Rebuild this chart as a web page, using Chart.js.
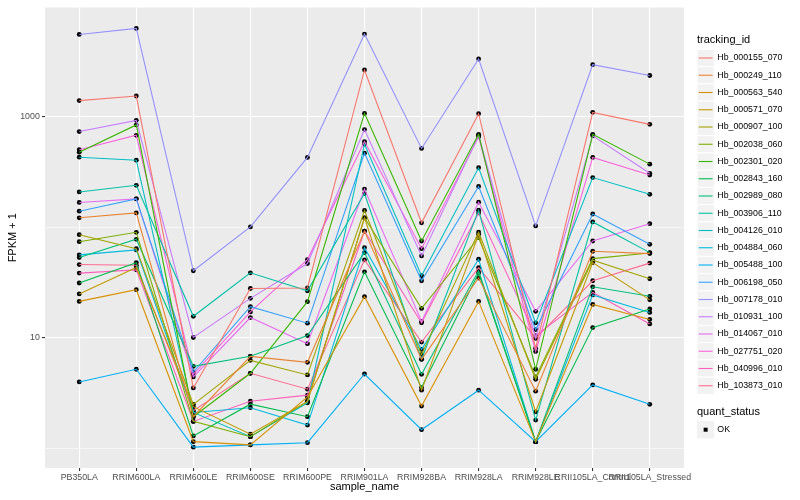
<!DOCTYPE html>
<html>
<head>
<meta charset="utf-8">
<script src="https://cdn.jsdelivr.net/npm/chart.js@4.4.1/dist/chart.umd.min.js"></script>
<style>
  html, body { margin: 0; padding: 0; background: #ffffff; }
  #wrap { width: 800px; height: 500px; }
</style>
</head>
<body>
<div id="wrap"><canvas id="myChart" width="800" height="500"></canvas></div>
<script>
// samples on the x axis
const samples = ["PB350LA", "RRIM600LA", "RRIM600LE", "RRIM600SE", "RRIM600PE", "RRIM901LA",
  "RRIM928BA", "RRIM928LA", "RRIM928LE", "RRII105LA_Control", "RRII105LA_Stressed"];

// FPKM + 1 per gene, one value per sample
const hb_000155_070 = [1400, 1540, 3.53, 28.0, 28.3, 2650, 110, 1066, 8.09, 1096, 854];
const hb_000249_110 = [122, 135, 1.94, 6.82, 6.02, 92.6, 6.41, 34.8, 3.30, 60.8, 57.9];
const hb_000563_540 = [21.4, 27.3, 1.155, 1.08, 2.93, 23.6, 2.42, 21.4, 1.155, 20.1, 14.7];
const hb_000571_070 = [25.0, 43.3, 2.39, 1.35, 2.67, 122, 3.37, 86.5, 2.15, 48.0, 22.1];
const hb_000907_100 = [85.8, 64.2, 2.51, 6.27, 4.63, 142, 7.10, 90.7, 4.23, 50.5, 34.3];
const hb_002038_060 = [74.2, 90.2, 1.76, 1.28, 2.67, 122, 18.5, 80.6, 4.44, 52.2, 58.7];
const hb_002301_020 = [478, 844, 1.94, 4.79, 21.3, 1073, 75.3, 694, 5.21, 694, 373];
const hb_002843_160 = [31.4, 48.0, 1.30, 2.52, 1.94, 39.6, 3.56, 38.6, 1.155, 12.4, 18.3];
const hb_002989_080 = [53.3, 78.0, 5.54, 6.82, 10.5, 59.1, 4.69, 40.5, 1.155, 29.0, 23.8];
const hb_003906_110 = [209, 240, 15.7, 38.8, 26.7, 202, 6.41, 143, 1.81, 112, 59.1];
const hb_004126_010 = [431, 405, 2.12, 1.28, 2.59, 565, 36.5, 346, 13.7, 282, 199];
const hb_004884_060 = [56.4, 62.5, 2.12, 2.34, 1.63, 65.5, 7.88, 51.5, 1.155, 24.5, 17.0];
const hb_005488_100 = [4.00, 5.21, 1.03, 1.08, 1.13, 4.72, 1.48, 3.37, 1.155, 3.76, 2.51];
const hb_006198_050 = [140, 181, 4.92, 19.2, 13.6, 469, 32.9, 234, 11.9, 132, 70.3];
const hb_007178_010 = [5550, 6290, 40.5, 101, 429, 5590, 517, 3330, 103, 2960, 2360];
const hb_010931_100 = [735, 928, 10.1, 22.8, 47.1, 766, 55.2, 676, 9.96, 672, 308];
const hb_014067_010 = [168, 181, 4.44, 15.3, 8.87, 222, 14.1, 169, 17.4, 75.3, 108];
const hb_027751_020 = [503, 680, 4.69, 17.2, 51.1, 597, 64.2, 658, 7.56, 429, 297];
const hb_040996_010 = [38.6, 41.3, 1.76, 2.68, 3.04, 92.6, 13.7, 135, 10.5, 25.8, 13.4];
const hb_103873_010 = [46.1, 45.5, 2.20, 4.79, 3.44, 50.8, 9.17, 43.3, 9.96, 32.9, 47.5];

const trackingIds = ["Hb_000155_070", "Hb_000249_110", "Hb_000563_540", "Hb_000571_070",
  "Hb_000907_100", "Hb_002038_060", "Hb_002301_020", "Hb_002843_160", "Hb_002989_080",
  "Hb_003906_110", "Hb_004126_010", "Hb_004884_060", "Hb_005488_100", "Hb_006198_050",
  "Hb_007178_010", "Hb_010931_100", "Hb_014067_010", "Hb_027751_020", "Hb_040996_010",
  "Hb_103873_010"];
const series = [hb_000155_070, hb_000249_110, hb_000563_540, hb_000571_070, hb_000907_100,
  hb_002038_060, hb_002301_020, hb_002843_160, hb_002989_080, hb_003906_110, hb_004126_010,
  hb_004884_060, hb_005488_100, hb_006198_050, hb_007178_010, hb_010931_100, hb_014067_010,
  hb_027751_020, hb_040996_010, hb_103873_010];

// y axis breaks: labelled ones and minor ones
const yBreaks = [10, 1000];
const yMinor = [1, 100];
const statusLabels = ["OK"];

const colors = ["#F8766D", "#EA8331", "#D89000", "#C09B00", "#A3A500", "#7CAE00", "#39B600",
  "#00BB4E", "#00BF7D", "#00C1A3", "#00BFC4", "#00BAE0", "#00B0F6", "#35A2FF", "#9590FF",
  "#C77CFF", "#E76BF3", "#FA62DB", "#FF62BC", "#FF6C91"];

const FONT = "'Liberation Sans', Arial, Helvetica, sans-serif";

const toPoints = vals => samples.map((s, i) => ({ x: i, y: vals[i] }));

const lineSets = series.map((vals, k) => ({
  label: trackingIds[k],
  data: toPoints(vals),
  borderColor: colors[k],
  borderWidth: 1.1,
  pointRadius: 0,
  fill: false,
  tension: 0
}));
// points go on top of every line, like geom_point after geom_line
const pointSets = series.map((vals, k) => ({
  label: trackingIds[k] + " points",
  data: toPoints(vals),
  showLine: false,
  pointRadius: 2.4,
  pointBackgroundColor: "#000000",
  pointBorderColor: "#000000",
  pointBorderWidth: 0
}));

const panelBg = {
  id: "panelBg",
  beforeDraw(chart) {
    const { ctx, chartArea: a } = chart;
    ctx.save();
    ctx.fillStyle = "#EBEBEB";
    ctx.fillRect(a.left, a.top, a.right - a.left, a.bottom - a.top);
    ctx.restore();
  }
};

const ggLegend = {
  id: "ggLegend",
  afterDraw(chart) {
    const ctx = chart.ctx;
    const x0 = 697, key = 17.28, textX = 717.3;
    ctx.save();
    ctx.textBaseline = "middle";
    ctx.textAlign = "left";
    ctx.fillStyle = "#000000";
    ctx.font = "11px " + FONT;
    ctx.fillText("tracking_id", x0, 40);
    trackingIds.forEach((id, i) => {
      const cy = 58 + i * 17.25;
      ctx.fillStyle = "#F2F2F2";
      ctx.fillRect(x0, cy - key / 2, key, key);
      ctx.strokeStyle = "#FFFFFF";
      ctx.lineWidth = 1;
      ctx.strokeRect(x0, cy - key / 2, key, key);
      ctx.strokeStyle = colors[i];
      ctx.lineWidth = 1.1;
      ctx.beginPath();
      ctx.moveTo(x0 + 1.7, cy);
      ctx.lineTo(x0 + key - 1.7, cy);
      ctx.stroke();
      ctx.fillStyle = "#000000";
      ctx.font = "8.8px " + FONT;
      ctx.fillText(id, textX, cy);
    });
    ctx.font = "11px " + FONT;
    ctx.fillText("quant_status", x0, 412.3);
    statusLabels.forEach((lab, i) => {
      const cy = 429.7 + i * 17.25;
      ctx.fillStyle = "#F2F2F2";
      ctx.fillRect(x0, cy - key / 2, key, key);
      ctx.fillStyle = "#000000";
      ctx.beginPath();
      ctx.rect(x0 + key / 2 - 2, cy - 2, 4, 4);
      ctx.fill();
      ctx.font = "8.8px " + FONT;
      ctx.fillText(lab, textX, cy);
    });
    ctx.restore();
  }
};

new Chart("myChart", {
  type: "line",
  data: { datasets: lineSets.concat(pointSets) },
  plugins: [panelBg, ggLegend],
  options: {
    responsive: false,
    animation: false,
    devicePixelRatio: 1,
    layout: { padding: { top: 5, right: 116, bottom: 0, left: 0 } },
    plugins: { legend: { display: false }, tooltip: { enabled: false } },
    scales: {
      x: {
        type: "linear",
        min: -0.6,
        max: samples.length - 0.4,
        afterBuildTicks: s => { s.ticks = samples.map((c, i) => ({ value: i })); },
        afterFit: s => { s.height = 32; },
        ticks: {
          autoSkip: false, maxRotation: 0, minRotation: 0, padding: 1,
          color: "#4D4D4D", font: { family: FONT, size: 8.8 },
          callback: v => samples[v]
        },
        grid: { color: "#FFFFFF", lineWidth: 1.1, tickColor: "#333333", tickLength: 3, tickWidth: 1.1 },
        border: { display: false },
        title: { display: true, text: "sample_name", color: "#000000",
          font: { family: FONT, size: 11 }, padding: { top: 0, bottom: 6 } }
      },
      y: {
        type: "logarithmic",
        min: 0.667,
        max: 9730,
        afterBuildTicks: s => {
          s.ticks = yMinor.concat(yBreaks).sort((a, b) => a - b).map(v => ({ value: v }));
        },
        afterFit: s => { s.width = 45; },
        ticks: {
          autoSkip: false, padding: 2.2,
          color: "#4D4D4D", font: { family: FONT, size: 8.8 },
          callback: v => (yBreaks.includes(v) ? String(v) : "")
        },
        grid: {
          color: "#FFFFFF",
          lineWidth: c => (c.tick && yBreaks.includes(c.tick.value) ? 1.1 : 0.55),
          tickColor: c => (c.tick && yBreaks.includes(c.tick.value) ? "#333333" : "rgba(0,0,0,0)"),
          tickLength: 3, tickWidth: 1.1
        },
        border: { display: false },
        title: { display: true, text: "FPKM + 1", color: "#000000",
          font: { family: FONT, size: 11 }, padding: { top: 6.4, bottom: 0 } }
      }
    }
  }
});
</script>
</body>
</html>
